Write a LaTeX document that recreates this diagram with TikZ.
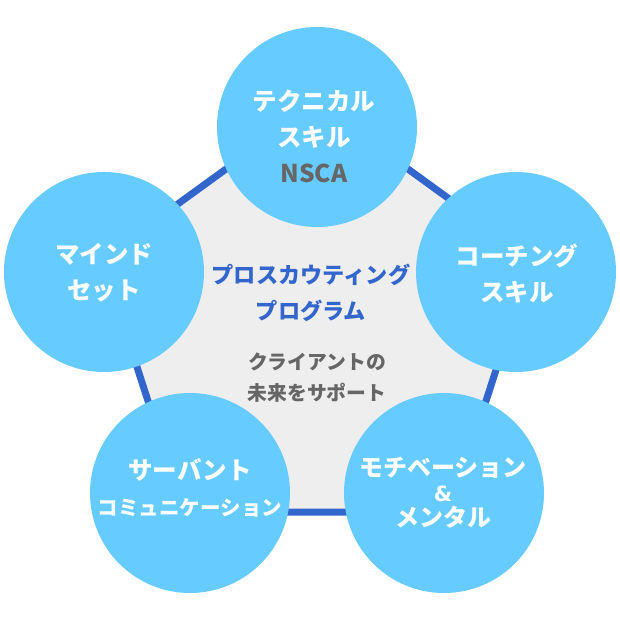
\documentclass[tikz,border=0pt]{standalone}
\usepackage{fontspec}
\usepackage{tikz}
\newfontfamily\jpfont{Noto Sans CJK JP}
\newfontfamily\latfont{DejaVu Sans}
\definecolor{skyblue}{HTML}{66CCFF}
\definecolor{frameblue}{HTML}{3366CC}
\definecolor{paleback}{HTML}{EEEEEE}
\definecolor{darktext}{HTML}{666666}

\begin{document}
\begin{tikzpicture}[x=1pt,y=-1pt,
    skill/.style={circle,fill=skyblue,minimum size=200pt,inner sep=0pt},
    skilltext/.style={align=center,text=white,font=\jpfont\bfseries\fontsize{24.5}{36}\selectfont},
    pentagon/.style={draw=frameblue,fill=paleback,line width=7pt}]
			\useasboundingbox (0,0) rectangle (620,620);
			\draw[pentagon] (317,103) -- (532,259) -- (450,512) -- (184,512) -- (102,259) -- cycle;
			% five skill circles
			\node[skill] (tech) at (317,127) {};
			\node[skill] (coach) at (516,272) {};
			\node[skill] (motiv) at (444,493) {};
			\node[skill] (servant) at (190,493) {};
			\node[skill] (mind) at (104,272) {};
			\node[skilltext] (techtext) at (314,136) {テクニカル\\スキル\\\textcolor{darktext}{NSCA}};
			\node[skilltext] (coachtext) at (517,274) {コーチング\\スキル};
			\node[skilltext,font=\jpfont\bfseries\fontsize{24}{25}\selectfont] (motivtext) at (443,493) {モチベーション\\{\latfont\bfseries\fontsize{21}{25}\selectfont\&}\\メンタル};
			\node[skilltext] (servanttext) at (190,488) {サーバント\\{\fontsize{20.5}{36}\selectfont コミュニケーション}};
			\node[skilltext] (mindtext) at (104,273) {マインド\\セット};
			% centre
			\node[align=center,text=frameblue,font=\jpfont\bfseries\fontsize{22.2}{36}\selectfont] (program) at (311,293) {プロスカウティング\\プログラム};
			\node[align=center,text=darktext,font=\jpfont\bfseries\fontsize{19.8}{31}\selectfont] (support) at (317,378) {クライアントの\\未来をサポート};
		\end{tikzpicture}
\end{document}
